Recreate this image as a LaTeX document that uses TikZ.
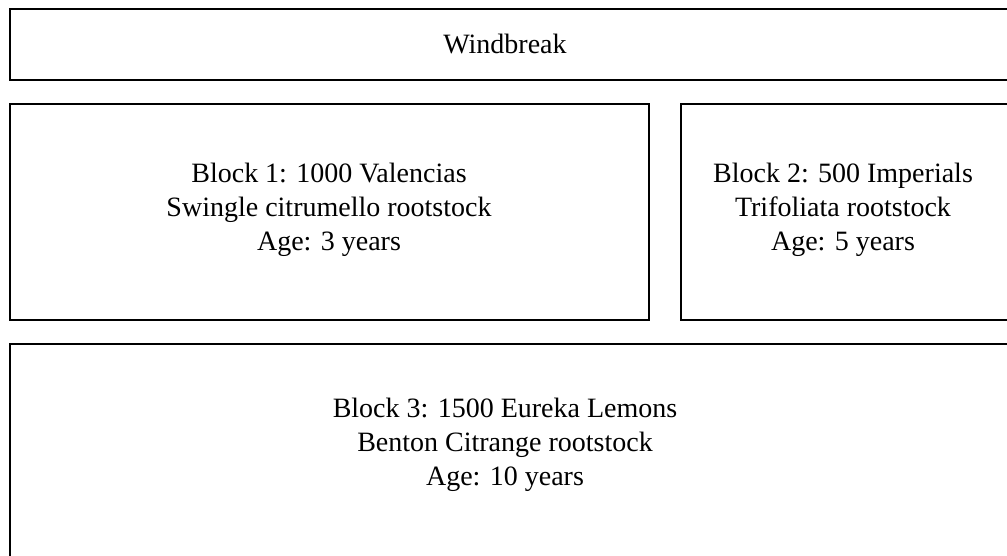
\documentclass[tikz,border=0pt]{standalone}
\usepackage{fontspec}
\setmainfont{Liberation Serif}
\usetikzlibrary{positioning}
\tikzset{
  plotbox/.style={draw, line width=2pt},
  plotlabel/.style={align=center, inner sep=0pt}
}
\begin{document}
\begin{tikzpicture}[x=1pt, y=-1pt, font=\fontsize{28}{34}\selectfont, line join=miter]
  \useasboundingbox (0,0) rectangle (1007,556);
  % corners of the plots
  \coordinate (W1) at (10,9);
  \coordinate (W2) at (1020,80);
  \coordinate (B1a) at (10,104);
  \coordinate (B1b) at (649,320);
  \coordinate (B2a) at (681,104);
  \coordinate (B2b) at (1080,320);
  \coordinate (B3a) at (10,344);
  \coordinate (B3b) at (1020,580);
  \draw[plotbox] (W1) rectangle (W2);
  \draw[plotbox] (B1a) rectangle (B1b);
  \draw[plotbox] (B2a) rectangle (B2b);
  \draw[plotbox] (B3a) rectangle (B3b);
  % labels
  \node[plotlabel] (wind) at (505,44) {Windbreak};
  \node[plotlabel] (blk1) at (329,210) {Block 1: 1000 Valencias\\Swingle citrumello rootstock\\Age: 3 years};
  \node[plotlabel] (blk2) at (843,210) {Block 2: 500 Imperials\\Trifoliata rootstock\\Age: 5 years};
  \node[plotlabel] (blk3) at (505,445) {Block 3: 1500 Eureka Lemons\\Benton Citrange rootstock\\Age: 10 years};
\end{tikzpicture}
\end{document}
